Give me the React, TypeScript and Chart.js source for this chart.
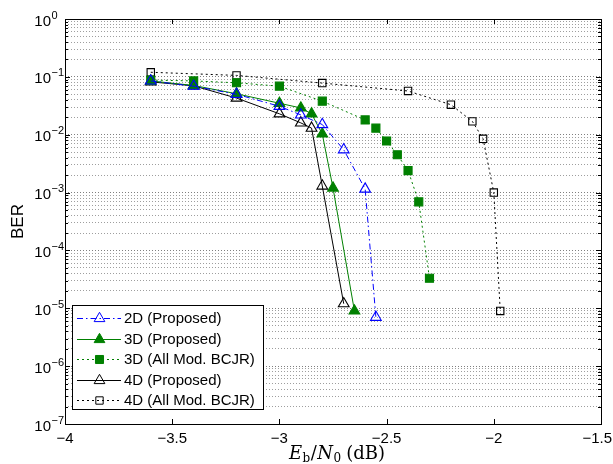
import React, { useEffect, useRef } from "react";
import { Chart, registerables } from "chart.js";

Chart.register(...registerables);

// ---- data ----
const snr2D = [-3.6, -3.4, -3.2, -3.0, -2.9, -2.8, -2.7, -2.6, -2.55];
const ber2D = [0.085, 0.069, 0.05, 0.031, 0.022, 0.015, 0.0055, 0.00115, 7e-6];

const snr3D = [-3.6, -3.4, -3.2, -3.0, -2.9, -2.85, -2.8, -2.75, -2.65];
const ber3D = [0.085, 0.071, 0.051, 0.035, 0.029, 0.023, 0.0103, 0.0012, 9e-6];

const snr3DB = [-3.6, -3.4, -3.2, -3.0, -2.8, -2.6, -2.55, -2.5, -2.45, -2.4, -2.35, -2.3];
const ber3DB = [0.088, 0.085, 0.079, 0.069, 0.038, 0.018, 0.013, 0.0078, 0.0045, 0.0024, 0.00069, 3.3e-5];

const snr4D = [-3.6, -3.4, -3.2, -3.0, -2.9, -2.85, -2.8, -2.7];
const ber4D = [0.082, 0.07, 0.043, 0.023, 0.016, 0.013, 0.0013, 1.2e-5];

const snr4DB = [-3.6, -3.2, -2.8, -2.4, -2.2, -2.1, -2.05, -2.0, -1.97];
const ber4DB = [0.12, 0.106, 0.078, 0.057, 0.033, 0.017, 0.0085, 0.001, 9e-6];

const seriesLabels = [
  "2D (Proposed)",
  "3D (Proposed)",
  "3D (All Mod. BCJR)",
  "4D (Proposed)",
  "4D (All Mod. BCJR)",
];

const xTicks = [-4, -3.5, -3, -2.5, -2, -1.5];
const yTickExponents = [0, -1, -2, -3, -4, -5, -6, -7];
const yMinorMantissas = [2, 3, 4, 5, 6, 7, 8, 9];

const X_MIN = -4;
const X_MAX = -1.5;
const Y_MIN = 1e-7;
const Y_MAX = 1;

const SANS = "Arial, 'Liberation Sans', Helvetica, sans-serif";
const SERIF = "'DejaVu Serif', 'Liberation Serif', serif";
const GREEN = "rgb(0,128,0)";
const BLUE = "rgb(0,0,255)";
const BLACK = "rgb(0,0,0)";

const fmtMinus = (v: number) => String(v).replace("-", "\u2212");

const toPts = (xs: number[], ys: number[]) => xs.map((x, i) => ({ x, y: ys[i] }));

// all grid values (decades + minor)
const yGridValues: number[] = [];
yTickExponents.forEach((e) => {
  yGridValues.push(Math.pow(10, e));
  if (e === 0) return;
  yMinorMantissas.forEach((m) => yGridValues.push(m * Math.pow(10, e)));
});
yGridValues.sort((a, b) => a - b);

const isDecade = (v: number) => {
  const l = Math.log10(v);
  return Math.abs(l - Math.round(l)) < 1e-9;
};

function drawMarker(ctx: CanvasRenderingContext2D, style: string, x: number, y: number, r: number, fill: string, stroke: string) {
  ctx.save();
  ctx.setLineDash([]);
  ctx.beginPath();
  if (style === "triangle") {
    let rad = 0;
    ctx.moveTo(x + Math.sin(rad) * r, y - Math.cos(rad) * r);
    rad += (2 * Math.PI) / 3;
    ctx.lineTo(x + Math.sin(rad) * r, y - Math.cos(rad) * r);
    rad += (2 * Math.PI) / 3;
    ctx.lineTo(x + Math.sin(rad) * r, y - Math.cos(rad) * r);
    ctx.closePath();
  } else {
    const s = Math.SQRT1_2 * r;
    ctx.rect(x - s, y - s, 2 * s, 2 * s);
  }
  ctx.fillStyle = fill;
  ctx.fill();
  ctx.strokeStyle = stroke;
  ctx.lineWidth = 1;
  ctx.stroke();
  ctx.restore();
}

const framePlugin = {
  id: "matlabFrame",
  afterDraw(chart: any) {
    const { ctx, chartArea: a, scales } = chart;
    const xs = scales.x;
    const ys = scales.y;
    const L = Math.round(a.left);
    const R = Math.round(a.right);
    const T = Math.round(a.top);
    const B = Math.round(a.bottom);
    ctx.save();
    ctx.strokeStyle = "#000";
    ctx.lineWidth = 1;
    ctx.setLineDash([]);
    ctx.beginPath();
    // x ticks
    xTicks.forEach((v) => {
      const px = Math.round(xs.getPixelForValue(v)) + 0.5;
      ctx.moveTo(px, B);
      ctx.lineTo(px, B - 5);
      ctx.moveTo(px, T);
      ctx.lineTo(px, T + 5);
    });
    // y ticks
    yGridValues.forEach((v) => {
      const py = Math.round(ys.getPixelForValue(v)) + 0.5;
      const len = isDecade(v) ? 5 : 3;
      ctx.moveTo(L, py);
      ctx.lineTo(L + len, py);
      ctx.moveTo(R, py);
      ctx.lineTo(R - len, py);
    });
    ctx.stroke();
    ctx.strokeRect(L + 0.5, T + 0.5, R - L, B - T);

    // y tick labels: 10^e
    ctx.fillStyle = "#000";
    yTickExponents.forEach((e) => {
      const py = ys.getPixelForValue(Math.pow(10, e));
      const xBase = 51;
      ctx.font = `15px ${SANS}`;
      ctx.textAlign = "right";
      ctx.textBaseline = "alphabetic";
      ctx.fillText("10", xBase, py + 6.5);
      ctx.font = `11px ${SANS}`;
      ctx.textAlign = "left";
      ctx.fillText(fmtMinus(e), xBase + 0.5, py - 0.5);
    });

    // x tick labels
    ctx.font = `15px ${SANS}`;
    ctx.textAlign = "left";
    ctx.textBaseline = "alphabetic";
    xTicks.forEach((v) => {
      const px = xs.getPixelForValue(v);
      const txt = fmtMinus(v);
      const w = ctx.measureText(txt).width;
      let left = px - w / 2;
      if (left + w > 612) left = 612 - w;
      ctx.fillText(txt, left, 443);
    });

    // y title
    ctx.save();
    ctx.translate(18, (a.top + a.bottom) / 2);
    ctx.rotate(-Math.PI / 2);
    ctx.font = `17px ${SANS}`;
    ctx.textAlign = "center";
    ctx.textBaseline = "middle";
    ctx.fillText("BER", 0, 0);
    ctx.restore();

    // x title: E_b/N_0 (dB)
    const pieces: [string, string, number, number][] = [
      ["E", `italic 18px ${SERIF}`, 0, 0.5],
      ["b", `12px ${SERIF}`, 3, 0.5],
      ["/", `18px ${SERIF}`, 0, 0.5],
      ["N", `italic 18px ${SERIF}`, 0, 0.5],
      ["0", `12px ${SERIF}`, 3, 5],
      ["(dB)", `18px ${SERIF}`, 0, 0],
    ];
    let total = 0;
    const widths = pieces.map(([t, f, , gap]) => {
      ctx.font = f;
      const w = ctx.measureText(t).width + gap;
      total += w;
      return w;
    });
    let cx = 337 - total / 2;
    ctx.textAlign = "left";
    pieces.forEach(([t, f, dy], i) => {
      ctx.font = f;
      ctx.fillText(t, cx, 459 + dy);
      cx += widths[i];
    });

    // legend
    const lx = 72.5;
    const ly = 305.5;
    const lw = 191;
    const lh = 104;
    ctx.fillStyle = "#fff";
    ctx.fillRect(lx, ly, lw, lh);
    ctx.strokeStyle = "#000";
    ctx.lineWidth = 1;
    ctx.strokeRect(lx, ly, lw, lh);
    const datasets = chart.data.datasets;
    datasets.forEach((ds: any, i: number) => {
      const y = 318 + i * 20.5;
      ctx.save();
      ctx.strokeStyle = ds.borderColor;
      ctx.lineWidth = ds.borderWidth;
      ctx.setLineDash(ds.borderDash || []);
      ctx.beginPath();
      ctx.moveTo(77, Math.round(y) + 0.5);
      ctx.lineTo(121, Math.round(y) + 0.5);
      ctx.stroke();
      ctx.restore();
      drawMarker(ctx, ds.pointStyle, 99.5, Math.round(y) + 0.5, ds.pointRadius, ds.pointBackgroundColor, ds.pointBorderColor);
      ctx.fillStyle = "#000";
      ctx.font = `15px ${SANS}`;
      ctx.textAlign = "left";
      ctx.textBaseline = "middle";
      ctx.fillText(ds.label, 124, y + 1);
    });
    ctx.restore();
  },
};

export default function App() {
  const canvasRef = useRef<HTMLCanvasElement | null>(null);

  useEffect(() => {
    const canvas = canvasRef.current;
    if (!canvas) return;
    const transparent = "rgba(0,0,0,0)";
    const mk = (label: string, xs: number[], ys: number[], color: string, dash: number[], style: string, r: number, filled: boolean) => ({
      label,
      data: toPts(xs, ys),
      borderColor: color,
      borderWidth: 1,
      borderDash: dash,
      pointStyle: style,
      pointRadius: r,
      pointHoverRadius: r,
      pointBorderWidth: 1.1,
      pointBorderColor: color,
      pointBackgroundColor: filled ? color : transparent,
      backgroundColor: filled ? color : transparent,
      fill: false,
      tension: 0,
    });
    const chart = new Chart(canvas, {
      type: "line",
      data: {
        datasets: [
          mk(seriesLabels[0], snr2D, ber2D, BLUE, [6, 3, 1.5, 3], "triangle", 6.2, false),
          mk(seriesLabels[1], snr3D, ber3D, GREEN, [], "triangle", 6.2, true),
          mk(seriesLabels[2], snr3DB, ber3DB, GREEN, [2, 3], "rect", 5.7, true),
          mk(seriesLabels[3], snr4D, ber4D, BLACK, [], "triangle", 6.2, false),
          mk(seriesLabels[4], snr4DB, ber4DB, BLACK, [2, 3], "rect", 5.2, false),
        ] as any,
      },
      options: {
        animation: false,
        responsive: false,
        devicePixelRatio: 1,
        events: [],
        layout: { padding: { left: 65, top: 19, right: 12, bottom: 40 } },
        plugins: {
          legend: { display: false },
          tooltip: { enabled: false },
          title: { display: false },
        },
        scales: {
          x: {
            type: "linear",
            min: X_MIN,
            max: X_MAX,
            grid: { display: false },
            border: { display: false },
            ticks: { display: false },
            afterFit: (s: any) => {
              s.height = 0;
            },
          },
          y: {
            type: "logarithmic",
            min: Y_MIN,
            max: Y_MAX,
            ticks: { display: false },
            afterBuildTicks: (s: any) => {
              s.ticks = yGridValues.map((v) => ({ value: v }));
            },
            afterFit: (s: any) => {
              s.width = 0;
            },
            grid: {
              drawTicks: false,
              lineWidth: 1,
              color: (c: any) => (c.tick && isDecade(c.tick.value) ? "rgba(0,0,0,0.5)" : "rgba(0,0,0,0.38)"),
            },
            border: { display: false, dash: [1, 2] },
          },
        },
      } as any,
      plugins: [framePlugin],
    });
    return () => chart.destroy();
  }, []);

  return (
    <div style={{ position: "absolute", left: 0, top: 0, width: 613, height: 464, background: "#fff" }}>
      <canvas ref={canvasRef} width={613} height={464} style={{ display: "block" }} />
    </div>
  );
}
